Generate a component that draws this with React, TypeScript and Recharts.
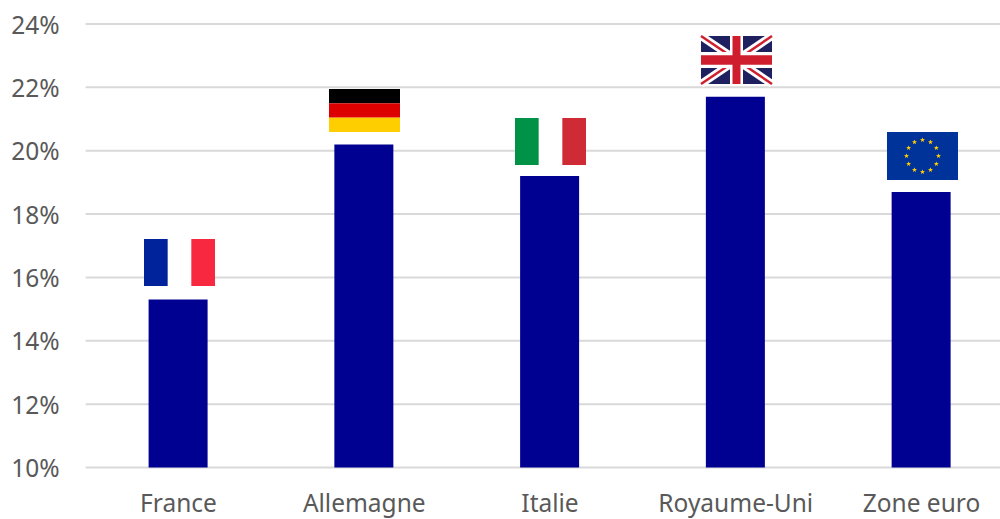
import { BarChart, Bar, XAxis, YAxis, CartesianGrid, LabelList } from 'recharts';

const categories = ['France', 'Allemagne', 'Italie', 'Royaume-Uni', 'Zone euro'];
const shares = [15.3, 20.2, 19.2, 21.7, 18.7];
const yTicks = [10, 12, 14, 16, 18, 20, 22, 24];

const data = categories.map((name, i) => ({ name, value: shares[i] }));

const FLAG_W = 71;
// flag images are not all the same size or distance from the bar
const flagHeights: Record<string, number> = { France: 47, Allemagne: 43, Italie: 47, 'Royaume-Uni': 48, 'Zone euro': 48 };
const flagGaps: Record<string, number> = { France: 14, Allemagne: 12, Italie: 11, 'Royaume-Uni': 13, 'Zone euro': 12 };

function starPoints(cx: number, cy: number, r: number) {
  const pts: string[] = [];
  for (let i = 0; i < 10; i++) {
    const rad = i % 2 === 0 ? r : r * 0.42;
    const a = -Math.PI / 2 + (i * Math.PI) / 5;
    pts.push(`${cx + rad * Math.cos(a)},${cy + rad * Math.sin(a)}`);
  }
  return pts.join(' ');
}

function FlagArt({ name, h }: { name: string; h: number }) {
  const w = FLAG_W;
  if (name === 'France') {
    return (
      <g>
        <rect width={w} height={h} fill="#fff" />
        <rect width={w / 3} height={h} fill="#00239c" />
        <rect x={(w * 2) / 3} width={w / 3} height={h} fill="#f7283f" />
      </g>
    );
  }
  if (name === 'Allemagne') {
    return (
      <g>
        <rect width={w} height={h / 3} fill="#000" />
        <rect y={h / 3} width={w} height={h / 3} fill="#dd0000" />
        <rect y={(h * 2) / 3} width={w} height={h / 3} fill="#ffce00" />
      </g>
    );
  }
  if (name === 'Italie') {
    return (
      <g>
        <rect width={w} height={h} fill="#fff" />
        <rect width={w / 3} height={h} fill="#009246" />
        <rect x={(w * 2) / 3} width={w / 3} height={h} fill="#ce2b37" />
      </g>
    );
  }
  if (name === 'Royaume-Uni') {
    return (
      <g>
        <rect width={w} height={h} fill="#1f2060" />
        <line x1={0} y1={0} x2={w} y2={h} stroke="#fff" strokeWidth={8} />
        <line x1={w} y1={0} x2={0} y2={h} stroke="#fff" strokeWidth={8} />
        <line x1={0} y1={0} x2={w} y2={h} stroke="#cf1f2e" strokeWidth={2.5} />
        <line x1={w} y1={0} x2={0} y2={h} stroke="#cf1f2e" strokeWidth={2.5} />
        <rect x={w / 2 - 6.5} width={13} height={h} fill="#fff" />
        <rect y={h / 2 - 8} width={w} height={16} fill="#fff" />
        <rect x={w / 2 - 4} width={8} height={h} fill="#cf1f2e" />
        <rect y={h / 2 - 4.75} width={w} height={9.5} fill="#cf1f2e" />
      </g>
    );
  }
  const stars = Array.from({ length: 12 }, (_, i) => {
    const a = (i * Math.PI) / 6;
    return starPoints(w / 2 + 16 * Math.sin(a), h / 2 - 16 * Math.cos(a), 2.6);
  });
  return (
    <g>
      <rect width={w} height={h} fill="#003399" />
      {stars.map((p, i) => <polygon key={i} points={p} fill="#ffcc00" />)}
    </g>
  );
}

function FlagLabel(props: any) {
  const { x, y, width, value } = props;
  const h = flagHeights[value];
  const left = Math.round(x + width / 2 - FLAG_W / 2 + 1);
  const top = Math.round(y - flagGaps[value] - h);
  return (
    <g transform={`translate(${left},${top})`}>
      <FlagArt name={value} h={h} />
    </g>
  );
}

const tickStyle = { fontFamily: 'Noto Sans', fontSize: 24.5, fill: '#595959' };

export default function App() {
  return (
    <div style={{ position: 'absolute', left: 0, top: 0, width: 1000, height: 519, background: '#fff', overflow: 'hidden' }}>
      <BarChart
        width={1014.4}
        height={519}
        data={data}
        margin={{ top: 24, right: 0, bottom: 0, left: 0 }}
        barCategoryGap={0}
      >
        <CartesianGrid vertical={false} stroke="#d9d9d9" strokeWidth={2} />
        <XAxis
          dataKey="name"
          axisLine={false}
          tickLine={false}
          height={51.5}
          interval={0}
          tickMargin={21}
          tick={tickStyle}
        />
        <YAxis
          width={85.6}
          domain={[10, 24]}
          ticks={yTicks}
          axisLine={false}
          tickLine={false}
          tickMargin={20}
          tickFormatter={(v: number) => `${v}%`}
          tick={{ ...tickStyle, dy: 1 }}
        />
        <Bar dataKey="value" fill="#000091" barSize={59} isAnimationActive={false}>
          <LabelList dataKey="name" content={FlagLabel} />
        </Bar>
      </BarChart>
    </div>
  );
}
